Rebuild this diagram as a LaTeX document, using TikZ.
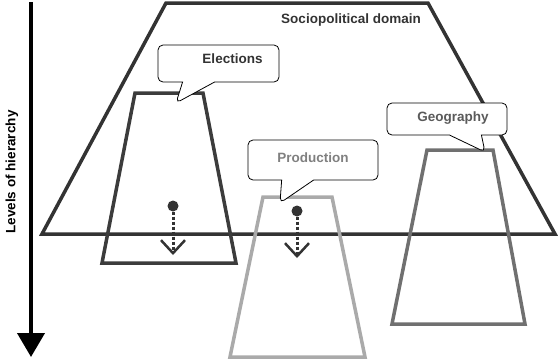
\documentclass[tikz,border=0pt]{standalone}
\usepackage{fontspec}
\setmainfont{Liberation Sans}
\usetikzlibrary{shapes}
\usetikzlibrary{shapes.callouts}
\usetikzlibrary{arrows.meta}
\definecolor{domaingray}{HTML}{333333}
\definecolor{electgray}{HTML}{3C3C3C}
\definecolor{prodgray}{HTML}{AAAAAA}
\definecolor{geogray}{HTML}{707070}
\tikzstyle{bubble}=[rectangle callout,draw=black,fill=white,line width=0.8pt,rounded corners=5pt,callout pointer width=32pt,inner sep=0pt]
\tikzstyle{tier}=[line width=3.5pt,line join=miter]
\tikzstyle{dot}=[circle,fill=domaingray,inner sep=0pt,minimum size=11pt]

\begin{document}
\begin{tikzpicture}
	[x=1pt,y=-1pt,font=\bfseries\fontsize{13.5}{16}\selectfont]
	\tikzstyle{drop}=[domaingray,dash pattern=on 3pt off 2pt,line width=3pt,-{Straight Barb[length=13pt,width=24pt,line width=2.5pt]}];
	\useasboundingbox (0,0) rectangle (560,362);

	% hierarchy axis
	\coordinate (axtop) at (31,2);
	\coordinate (axbot) at (31,357);
	\draw[line width=4pt,-{Triangle[length=24pt,width=27pt]}] (axtop) -- (axbot);
	\node (levels) [rotate=90] at (12,172) {Levels of hierarchy};

	% domain and tiers
	\draw[tier,domaingray] (166,3) -- (428,3) -- (555,234) -- (42,234) -- cycle;
	\node (domain) [anchor=base,text=domaingray] at (351,23) {Sociopolitical domain};
	\draw[tier,electgray] (135,93) -- (203,93) -- (236,263) -- (102,263) -- cycle;
	\draw[tier,prodgray] (263,197) -- (332,197) -- (365,357) -- (230,357) -- cycle;
	\draw[tier,geogray] (427,150) -- (493,150) -- (525,324) -- (392,324) -- cycle;

	% callouts
	\node (elecbub) [bubble,minimum width=121pt,minimum height=37pt,callout absolute pointer={(176,103)}] at (218.5,63.5) {};
	\node (electext) [anchor=base,text=domaingray] at (232.5,63) {Elections};
	\node (prodbub) [bubble,minimum width=130pt,minimum height=40pt,callout absolute pointer={(280,203)}] at (313,160) {};
	\node (prodtext) [anchor=base,text=gray] at (313,162) {Production};
	\node (geobub) [bubble,minimum width=120pt,minimum height=32pt,callout absolute pointer={(485,152)}] at (447,119) {};
	\node (geotext) [anchor=base,text=geogray!80!black] at (453,121) {Geography};

	% drops
	\node (elecdot) [dot] at (173,206) {};
	\coordinate (elecend) at (173,255);
	\node (proddot) [dot] at (297,211) {};
	\coordinate (prodend) at (297,258);
	\path[drop]
		(elecdot) edge (elecend)
		(proddot) edge (prodend);
\end{tikzpicture}
\end{document}
